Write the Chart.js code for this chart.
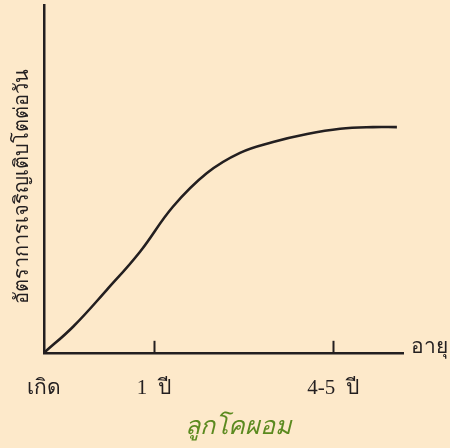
<!DOCTYPE html>
<html>
<head>
<meta charset="utf-8">
<script src="https://cdn.jsdelivr.net/npm/chart.js@4"></script>
<style>
html,body{margin:0;padding:0;background:#fde9ca;}
#wrap{width:450px;height:448px;position:relative;}
</style>
</head>
<body>
<div id="wrap"><canvas id="c" width="450" height="448"></canvas></div>
<script>
// Age axis (0 = birth) and relative daily growth rate
const ageValues    = [0, 8.1, 17.5, 26.7, 35.9, 45.4, 54.6, 63.8, 73.3, 82.5, 91.6, 98.3];
const growthValues = [0, 7.5, 18.1, 29.0, 42.0, 51.7, 57.5, 60.6, 62.9, 64.4, 64.9, 64.9];
const xTickValues  = [0, 30.6, 80.5];
const xTickLabels  = ['เกิด', '1  ปี', '4-5  ปี'];
const xAxisName    = 'อายุ';
const yAxisName    = 'อัตราการเจริญเติบโตต่อวัน';
const chartTitle   = 'ลูกโคผอม';

const ink = '#231f20';

const extras = {
  id: 'extras',
  afterDraw(chart) {
    const ctx = chart.ctx;
    const x = chart.scales.x, y = chart.scales.y;
    const base = y.getPixelForValue(0);
    ctx.save();
    ctx.strokeStyle = ink;
    ctx.lineWidth = 2;
    xTickValues.slice(1).forEach(v => {
      const px = Math.round(x.getPixelForValue(v)) + 0.5;
      ctx.beginPath();
      ctx.moveTo(px, base);
      ctx.lineTo(px, base - 12);
      ctx.stroke();
    });
    ctx.fillStyle = ink;
    ctx.font = '21px "Liberation Serif", "DejaVu Serif", serif';
    ctx.textBaseline = 'middle';
    ctx.textAlign = 'left';
    ctx.fillText(xAxisName, x.right + 8, base - 5);
    // chart title under the plot
    ctx.fillStyle = '#5b8a1f';
    ctx.font = 'italic 25px "Noto Sans", sans-serif';
    ctx.textAlign = 'center';
    ctx.fillText(chartTitle, 238, 427);
    ctx.restore();
  }
};

new Chart(document.getElementById('c'), {
  type: 'line',
  data: {
    datasets: [{
      data: ageValues.map((a, i) => ({x: a, y: growthValues[i]})),
      borderColor: ink,
      borderWidth: 2.6,
      pointRadius: 0,
      fill: false,
      tension: 0.4,
      clip: false
    }]
  },
  options: {
    responsive: false,
    animation: false,
    devicePixelRatio: 1,
    layout: {padding: {top: 5, right: 47, left: 10, bottom: 24}},
    plugins: {
      legend: {display: false},
      tooltip: {enabled: false},
      title: {display: false}
    },
    scales: {
      x: {
        type: 'linear',
        min: 0, max: 100,
        grid: {display: false, drawTicks: false},
        border: {display: true, color: ink, width: 2.5},
        afterBuildTicks: s => { s.ticks = xTickValues.map(v => ({value: v})); },
        ticks: {
          autoSkip: false,
          maxRotation: 0,
          padding: 23,
          color: ink,
          font: {family: '"Liberation Serif", "DejaVu Serif", serif', size: 21},
          callback: (v, i) => xTickLabels[i]
        }
      },
      y: {
        min: 0, max: 100,
        grid: {display: false, drawTicks: false},
        border: {display: true, color: ink, width: 2.5},
        ticks: {display: false},
        title: {
          display: true,
          text: yAxisName + '   ',
          color: ink,
          font: {family: '"Noto Sans", sans-serif', size: 20},
          padding: {top: 0, bottom: 10}
        }
      }
    }
  },
  plugins: [extras]
});
</script>
</body>
</html>
